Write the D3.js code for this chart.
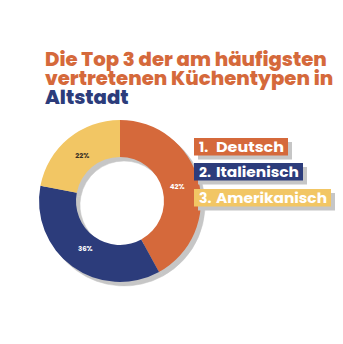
<!DOCTYPE html>
<html><head><meta charset="utf-8">
<script src="https://cdn.jsdelivr.net/npm/d3@7"></script>
<style>body{margin:0;background:#fff}svg{display:block}</style>
</head><body><div id="chart"></div>
<script>
const categories = ["Deutsch", "Italienisch", "Amerikanisch"];
const values = [42, 36, 22];
const labels = ["42%", "36%", "22%"];
const colors = ["#D5693B", "#2C3C7B", "#F2C664"];
const labelColors = ["#ffffff", "#ffffff", "#3a3326"];
const titleLines = [
  {text: "Die Top 3 der am häufigsten", color: "#D5693B"},
  {text: "vertretenen Küchentypen in", color: "#D5693B"},
  {text: "Altstadt", color: "#2C3C7B"}
];

const W = 343, H = 344;
const svg = d3.select("#chart").append("svg").attr("width", W).attr("height", H);
const font = "Poppins, Inter, 'Open Sans', sans-serif";

// Title, three lines; the first line sets the font size
const title = svg.append("g");
titleLines.forEach((l, i) => {
  title.append("text")
    .attr("x", 45).attr("y", 66 + i * 19)
    .attr("fill", l.color)
    .attr("font-family", font).attr("font-weight", 800)
    .attr("font-size", 19.5)
    .text(l.text);
});
const w0 = title.select("text").node().getComputedTextLength();
title.selectAll("text").attr("font-size", 19.5 * 282 / w0);

// Donut with a flat drop shadow
const cx = 120, cy = 201, rOut = 81, rIn = 44;
const pie = d3.pie().sort(null).value(d => d)(values);
const arc = d3.arc().innerRadius(rIn).outerRadius(rOut);
const labelArc = d3.arc().innerRadius(59).outerRadius(59);

const shadow = svg.append("g").attr("transform", `translate(${cx + 4},${cy + 4})`);
shadow.selectAll("path").data(pie).join("path")
  .attr("d", arc).attr("fill", "#c6c6c6").attr("stroke", "#c6c6c6").attr("stroke-width", 0.5);

const g = svg.append("g").attr("transform", `translate(${cx},${cy})`);
g.selectAll("path").data(pie).join("path")
  .attr("d", arc).attr("fill", (d, i) => colors[i]);
g.selectAll("text").data(pie).join("text")
  .attr("transform", d => `translate(${labelArc.centroid(d)})`)
  .attr("text-anchor", "middle").attr("dy", "0.35em")
  .attr("font-family", font).attr("font-weight", 700).attr("font-size", 7)
  .attr("fill", (d, i) => labelColors[i])
  .text((d, i) => labels[i]);

// Legend boxes with shadows
const legY = [138, 163, 189];
const legW = [94, 109, 137];
const leg = svg.append("g");
categories.forEach((c, i) => {
  const y = legY[i];
  leg.append("rect").attr("x", 198).attr("y", y + 4).attr("width", legW[i]).attr("height", 17.5).attr("fill", "#c6c6c6");
  leg.append("rect").attr("x", 194).attr("y", y).attr("width", legW[i]).attr("height", 17.5).attr("fill", colors[i]);
  leg.append("text").attr("x", 199).attr("y", y + 14)
    .attr("font-family", font).attr("font-weight", 700).attr("font-size", 14)
    .attr("fill", "#fff").text(`${i + 1}.`);
  leg.append("text").attr("x", 216).attr("y", y + 14)
    .attr("font-family", font).attr("font-weight", 700).attr("font-size", 14)
    .attr("fill", "#fff").text(c)
    .attr("textLength", legW[i] - 26).attr("lengthAdjust", "spacingAndGlyphs");
});
</script></body></html>
